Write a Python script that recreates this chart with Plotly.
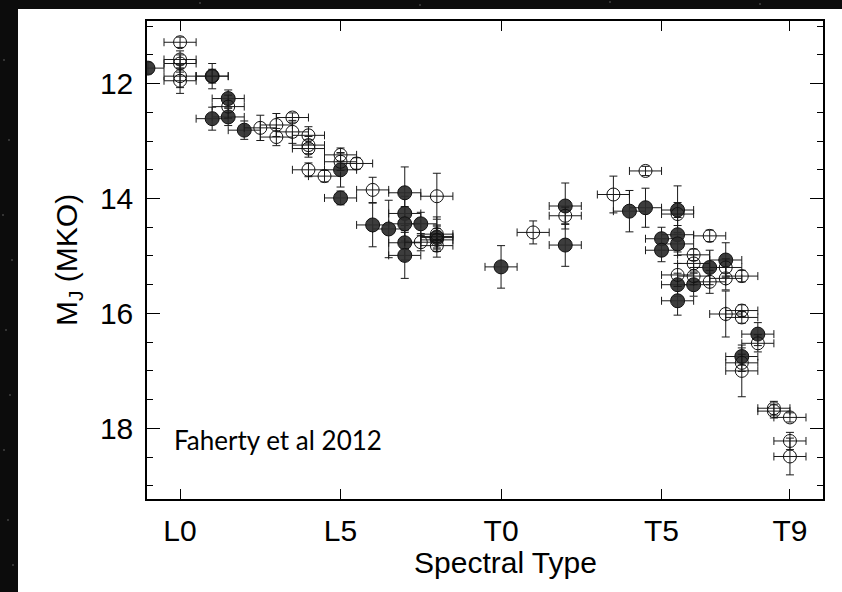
import plotly.graph_objects as go

# Spectral type index: L0 = 0, L5 = 5, T0 = 10, T5 = 15, T9 = 19
tick_vals = [0, 5, 10, 15, 19]
tick_text = ["L0", "L5", "T0", "T5", "T9"]

# Open symbols: spectral type, M_J, uncertainty in M_J
open_spt = [0, 0, 0, 0, 0, 1, 1.5, 2.5, 3, 3, 3.5, 3.5, 4, 4, 4, 4, 4.5, 5, 5, 5.5,
            6, 7.5, 8, 8, 8, 8, 8, 11, 12, 13.5, 14.5, 15.5, 15.5, 16, 16, 16,
            16.5, 16.5, 17, 17, 17, 17.5, 17.5, 17.5, 17.5, 17.5, 18, 18.5, 18.5,
            19, 19, 19]
open_mj = [11.28, 11.58, 11.65, 11.87, 11.95, 11.87, 12.40, 12.77, 12.72, 12.93,
           12.59, 12.84, 12.90, 13.07, 13.13, 13.50, 13.61, 13.24, 13.36, 13.39,
           13.85, 14.76, 13.96, 14.62, 14.66, 14.72, 14.82, 14.59, 14.30, 13.93,
           13.52, 14.27, 15.33, 14.98, 15.13, 15.35, 14.65, 15.45, 15.20, 15.39,
           16.01, 15.35, 15.95, 16.07, 16.86, 17.00, 16.52, 17.65, 17.70, 17.81,
           18.22, 18.49]
open_mj_err = [0.09, 0.15, 0.15, 0.20, 0.22, 0.12, 0.20, 0.22, 0.20, 0.15, 0.08,
               0.20, 0.15, 0.15, 0.15, 0.12, 0.10, 0.12, 0.15, 0.10, 0.22, 0.15,
               0.40, 0.30, 0.20, 0.20, 0.20, 0.20, 0.15, 0.32, 0.08, 0.20, 0.20,
               0.10, 0.15, 0.15, 0.10, 0.20, 0.15, 0.20, 0.40, 0.10, 0.10, 0.10,
               0.15, 0.45, 0.15, 0.12, 0.12, 0.08, 0.15, 0.32]
open_spt_err = [0.5] * len(open_spt)

# Filled symbols
fill_spt = [-1, 1, 1, 1.5, 1.5, 2, 5, 5, 6, 6.5, 7, 7, 7, 7, 7, 7.5, 8, 10, 12, 12,
            14, 14.5, 15, 15, 15.5, 15.5, 15.5, 15.5, 15.5, 16, 16.5, 17, 18, 17.5]
fill_mj = [11.73, 11.87, 12.61, 12.26, 12.58, 12.81, 13.50, 13.99, 14.46, 14.53,
           13.90, 14.26, 14.44, 14.77, 14.99, 14.44, 14.68, 15.19, 14.13, 14.81,
           14.22, 14.16, 14.70, 14.90, 14.20, 14.63, 14.79, 15.50, 15.78, 15.50,
           15.20, 15.07, 16.36, 16.75]
fill_mj_err = [0.10, 0.22, 0.20, 0.15, 0.15, 0.16, 0.30, 0.12, 0.38, 0.50, 0.45,
               0.30, 0.30, 0.30, 0.40, 0.20, 0.20, 0.37, 0.40, 0.37, 0.36, 0.34,
               0.20, 0.20, 0.42, 0.30, 0.20, 0.20, 0.25, 0.20, 0.30, 0.30, 0.20,
               0.15]
fill_spt_err = [0.5] * len(fill_spt)

bar_color = "#1a1a1a"


def err(vals):
    return dict(type="data", array=vals, visible=True, color=bar_color,
                thickness=1, width=4)


fig = go.Figure()
fig.add_trace(go.Scatter(
    x=fill_spt, y=fill_mj, mode="markers",
    error_x=err(fill_spt_err), error_y=err(fill_mj_err),
    marker=dict(symbol="circle", size=14, color="rgba(45,45,45,0.92)",
                line=dict(color="#111111", width=1)),
    showlegend=False))
fig.add_trace(go.Scatter(
    x=open_spt, y=open_mj, mode="markers",
    error_x=err(open_spt_err), error_y=err(open_mj_err),
    marker=dict(symbol="circle-open", size=13, color="#111111",
                line=dict(color="#111111", width=1)),
    showlegend=False))

W, H = 842, 592
L, R, T, B = 147, 19, 21, 93
pw, ph = W - L - R, H - T - B


def px_x(p):
    return (p - L) / pw


def px_y(p):
    return (H - B - p) / ph


# White panel over the dark backdrop
fig.add_shape(type="rect", xref="paper", yref="paper", layer="below",
              x0=px_x(18), x1=px_x(W + 2), y0=px_y(H + 2), y1=px_y(9),
              fillcolor="white", line=dict(width=0))

# Faint specks in the dark border
stars = [(4, 60), (9, 140), (3, 215), (12, 260), (6, 330), (10, 395), (4, 450),
         (8, 520), (13, 565), (200, 3), (420, 5), (610, 2), (760, 4)]
for sx, sy in stars:
    fig.add_shape(type="circle", xref="paper", yref="paper", layer="below",
                  x0=px_x(sx - 0.8), x1=px_x(sx + 0.8),
                  y0=px_y(sy + 0.8), y1=px_y(sy - 0.8),
                  fillcolor="#6a6a6a", line=dict(width=0))

axis_font = dict(family="Liberation Sans, Arial, sans-serif", size=30, color="black")

fig.update_layout(
    width=W, height=H,
    margin=dict(l=L, r=R, t=T, b=B, pad=0),
    paper_bgcolor="#0c0c0c",
    plot_bgcolor="white",
    font=axis_font,
    xaxis=dict(range=[-1.03, 20.03], tickvals=tick_vals, ticktext=tick_text,
               ticks="inside", ticklen=10, tickwidth=1.2, tickcolor="black",
               showline=True, linecolor="black", linewidth=1.5, mirror="ticks",
               showgrid=False, zeroline=False, tickfont=axis_font,
               ticklabelstandoff=4),
    yaxis=dict(range=[19.23, 10.91], tickvals=[12, 14, 16, 18],
               ticks="inside", ticklen=13, tickwidth=1.2, tickcolor="black",
               minor=dict(tick0=11, dtick=0.5, ticks="inside", ticklen=6,
                          tickwidth=1, tickcolor="black"),
               showline=True, linecolor="black", linewidth=1.5, mirror="allticks",
               showgrid=False, zeroline=False, tickfont=axis_font,
               ticklabelstandoff=6),
    annotations=[
        dict(text="Faherty et al 2012", x=-0.25, y=18.2, xref="x", yref="y",
             xanchor="left", yanchor="middle", showarrow=False,
             font=dict(family="Lato, Open Sans, sans-serif", size=26, color="black")),
        dict(text="M<sub>J</sub> (MKO)", x=px_x(68), y=px_y(260),
             xref="paper", yref="paper", textangle=-90, showarrow=False,
             xanchor="center", yanchor="middle", font=axis_font),
        dict(text="Spectral Type", x=px_x(505), y=px_y(562),
             xref="paper", yref="paper", showarrow=False,
             xanchor="center", yanchor="middle", font=axis_font),
    ],
)

fig.write_html("out.html")
